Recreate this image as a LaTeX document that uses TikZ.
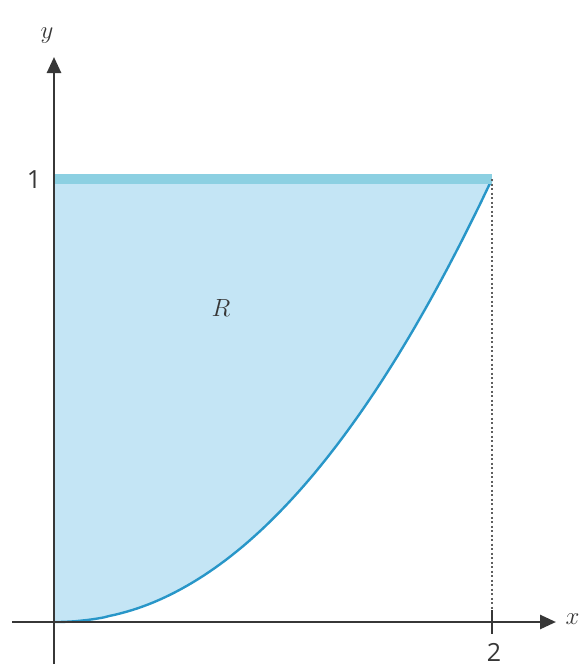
\documentclass[tikz,border=0pt]{standalone}
\usepackage{fontspec}
\newfontfamily\digitfont{Open Sans}
\usetikzlibrary{arrows.meta}
\definecolor{fillblue}{RGB}{196,229,245}
\definecolor{curveblue}{RGB}{40,150,200}
\definecolor{topblue}{RGB}{140,208,226}
\definecolor{axisgray}{RGB}{55,55,55}
\begin{document}
\begin{tikzpicture}[x=1pt,y=-1pt,
  axis/.style={draw=axisgray,line width=2.6pt,-{Triangle[length=16pt,width=14pt]}},
  lbl/.style={text=axisgray,font=\fontsize{27}{30}\selectfont},
  num/.style={text=axisgray,font=\fontsize{25}{30}\selectfont\digitfont}]
\useasboundingbox (0,0) rectangle (581,667);
\coordinate (O) at (54,622);
\coordinate (P) at (492,179);
\coordinate (Y1) at (54,179);
\coordinate (X2) at (492,622);
% region
\fill[fillblue] (O) -- plot[domain=0:2,samples=80] ({54+219*\x},{622-443*((\x/2)^2.1)}) -- (Y1) -- cycle;
\draw[curveblue,line width=2.4pt] plot[domain=0:2,samples=80] ({54+219*\x},{622-443*((\x/2)^2.1)});
\draw[topblue,line width=10pt] (Y1) -- (P);
% dotted guide
\draw[axisgray!80,line width=1.5pt,dash pattern=on 2pt off 2.5pt] (P) -- (X2);
% axes
\coordinate (xs) at (12,622);
\coordinate (xe) at (556,622);
\coordinate (ys) at (54,664);
\coordinate (ye) at (54,57);
\draw[axis] (xs) -- (xe);
\draw[axis] (ys) -- (ye);
\draw[axisgray,line width=2.4pt] (492,610) -- (492,634);
% labels
\node[lbl,anchor=west] (xl) at (562,619) {$x$};
\node[lbl] (yl) at (47,36) {$y$};
\node[num] (one) at (34,180) {1};
\node[num] (two) at (494,652) {2};
\node[lbl] (R) at (221,308) {$R$};
\end{tikzpicture}
\end{document}
